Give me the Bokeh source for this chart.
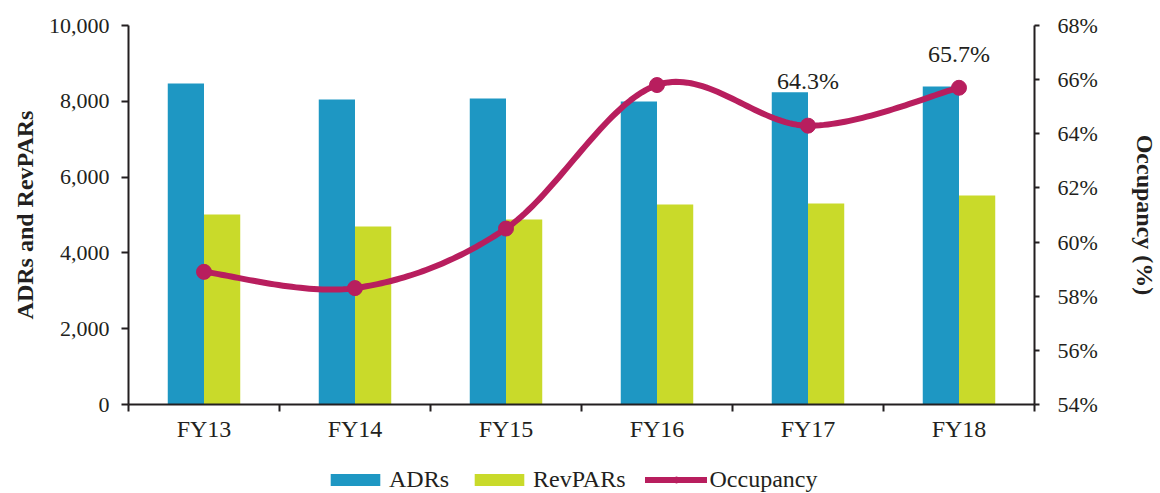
from bokeh.plotting import figure
from bokeh.layouts import column
from bokeh.models import (Range1d, LinearAxis, FixedTicker, NumeralTickFormatter,
                          PrintfTickFormatter, Legend, LegendItem, ColumnDataSource)
from bokeh.embed import file_html
from bokeh.resources import INLINE
from bokeh.core.properties import value

# ---------------- data ----------------
categories = ["FY13", "FY14", "FY15", "FY16", "FY17", "FY18"]
adrs = [8470, 8047, 8074, 7995, 8240, 8390]
revpars = [5013, 4697, 4881, 5277, 5303, 5514]
occupancy = [58.9, 58.3, 60.5, 65.8, 64.3, 65.7]
labelled = ["FY17", "FY18"]
series_names = ["ADRs", "RevPARs", "Occupancy"]
left_ticks = [0, 2000, 4000, 6000, 8000, 10000]
right_ticks = [54, 56, 58, 60, 62, 64, 66, 68]

# ---------------- style ----------------
FONT = "Liberation Serif"
TXT = "#231F20"
C_ADR = "#1E97C3"
C_REV = "#C9DA2A"
C_OCC = "#B81E5E"
BAR_W = 0.24

n = len(categories)
centers = [i + 0.5 for i in range(n)]

p = figure(width=1160, height=445, output_backend="svg", toolbar_location=None,
           x_range=Range1d(0, n), y_range=Range1d(left_ticks[0], left_ticks[-1]),
           min_border_left=128, min_border_right=122, min_border_top=25,
           min_border_bottom=41, x_axis_type=None, y_axis_type=None)
p.extra_y_ranges = {"occ": Range1d(right_ticks[0], right_ticks[-1])}
p.outline_line_color = None
p.xgrid.visible = False
p.ygrid.visible = False
p.background_fill_color = "white"
p.border_fill_color = "white"

src = ColumnDataSource(dict(
    x_adr=[c - BAR_W / 2 for c in centers],
    x_rev=[c + BAR_W / 2 for c in centers],
    adr=adrs, rev=revpars))
p.vbar(x="x_adr", top="adr", width=BAR_W, bottom=0, source=src,
       fill_color=C_ADR, line_color=None)
p.vbar(x="x_rev", top="rev", width=BAR_W, bottom=0, source=src,
       fill_color=C_REV, line_color=None)


def smooth(xs, ys, steps=40):
    pts = list(zip(xs, ys))
    ox, oy = [], []
    for i in range(len(pts) - 1):
        p0 = pts[i - 1] if i > 0 else pts[i]
        p1 = pts[i]
        p2 = pts[i + 1]
        p3 = pts[i + 2] if i + 2 < len(pts) else pts[i + 1]
        c1 = (p1[0] + (p2[0] - p0[0]) / 6, p1[1] + (p2[1] - p0[1]) / 6)
        c2 = (p2[0] - (p3[0] - p1[0]) / 6, p2[1] - (p3[1] - p1[1]) / 6)
        for k in range(steps + 1):
            if i > 0 and k == 0:
                continue
            t = k / steps
            a = (1 - t) ** 3
            b = 3 * (1 - t) ** 2 * t
            c = 3 * (1 - t) * t ** 2
            d = t ** 3
            ox.append(a * p1[0] + b * c1[0] + c * c2[0] + d * p2[0])
            oy.append(a * p1[1] + b * c1[1] + c * c2[1] + d * p2[1])
    return ox, oy


sx, sy = smooth(centers, occupancy)
p.line(sx, sy, y_range_name="occ", line_color=C_OCC, line_width=6,
       line_cap="round", line_join="round")
p.scatter(centers, occupancy, y_range_name="occ", size=15,
          fill_color=C_OCC, line_color=C_OCC)

# data labels
lab_x = [centers[categories.index(c)] for c in labelled]
lab_y = [occupancy[categories.index(c)] for c in labelled]
lab_t = [f"{v:.1f}%" for v in lab_y]
lab_off = [-45, -34]
lsrc = ColumnDataSource(dict(x=lab_x, y=lab_y, t=lab_t, off=lab_off))
p.text(x="x", y="y", text="t", y_offset="off", source=lsrc, y_range_name="occ",
       text_align="center", text_baseline="alphabetic",
       text_font=value(FONT), text_font_size="24px", text_color=TXT)

# ---------------- axes ----------------
ax_left = LinearAxis(ticker=FixedTicker(ticks=left_ticks),
                     formatter=NumeralTickFormatter(format="0,0"),
                     axis_label="ADRs and RevPARs")
ax_right = LinearAxis(y_range_name="occ", ticker=FixedTicker(ticks=right_ticks),
                      formatter=PrintfTickFormatter(format="%d%%"),
                      axis_label="Occupancy (%)")
ax_bottom = LinearAxis(ticker=FixedTicker(ticks=centers, minor_ticks=list(range(n + 1))),
                       major_label_overrides={c: lab for c, lab in zip(centers, categories)})

for ax in (ax_left, ax_right, ax_bottom):
    ax.axis_line_color = TXT
    ax.axis_line_width = 2
    ax.major_tick_line_color = TXT
    ax.major_tick_line_width = 2
    ax.minor_tick_line_color = None
    ax.major_tick_in = 0
    ax.major_label_text_font = FONT
    ax.major_label_text_color = TXT
    ax.axis_label_text_font = FONT
    ax.axis_label_text_font_style = "bold"
    ax.axis_label_text_color = TXT
    ax.axis_label_text_font_size = "24px"

ax_left.major_tick_out = 7
ax_left.major_label_text_font_size = "22px"
ax_left.major_label_standoff = 12
ax_left.axis_label_standoff = 8
ax_right.major_tick_out = 5
ax_right.major_label_text_font_size = "22px"
ax_right.major_label_standoff = 18
ax_right.axis_label_standoff = 31
ax_bottom.major_tick_out = 0
ax_bottom.major_tick_line_color = None
ax_bottom.minor_tick_line_color = TXT
ax_bottom.minor_tick_line_width = 2
ax_bottom.minor_tick_out = 7
ax_bottom.minor_tick_in = 0
ax_bottom.major_label_text_font_size = "24px"
ax_bottom.major_label_standoff = 4

p.add_layout(ax_left, "left")
p.add_layout(ax_right, "right")
p.add_layout(ax_bottom, "below")

# ---------------- legend strip ----------------
q = figure(width=1160, height=48, output_backend="svg", toolbar_location=None,
           x_axis_type=None, y_axis_type=None, min_border=0,
           x_range=Range1d(0, 1), y_range=Range1d(0, 1))
q.outline_line_color = None
q.xgrid.visible = False
q.ygrid.visible = False
q.background_fill_color = "white"
q.border_fill_color = "white"
# legend swatches only (their single point lies outside the strip's range)
g_adr = q.vbar(x=[-10], top=[0], width=1, fill_color=C_ADR, line_color=None)
g_rev = q.vbar(x=[-10], top=[0], width=1, fill_color=C_REV, line_color=None)
g_line = q.line(x=[-10, -9], y=[0, 0], line_color=C_OCC, line_width=6, line_cap="round")
g_pts = q.scatter(x=[-10], y=[0], size=15, fill_color=C_OCC, line_color=C_OCC)

legend = Legend(items=[
    LegendItem(label=series_names[0], renderers=[g_adr]),
    LegendItem(label=series_names[1], renderers=[g_rev]),
    LegendItem(label=series_names[2], renderers=[g_line, g_pts]),
], orientation="horizontal", location=(196, 0), padding=0, margin=0,
    spacing=19, glyph_width=62, glyph_height=15, label_standoff=3,
    label_text_font=FONT, label_text_font_size="24px", label_text_color=TXT,
    border_line_color=None, background_fill_alpha=0)
q.add_layout(legend, "center")

layout = column(p, q, spacing=0)
open("out.html", "w").write(file_html(layout, INLINE))
